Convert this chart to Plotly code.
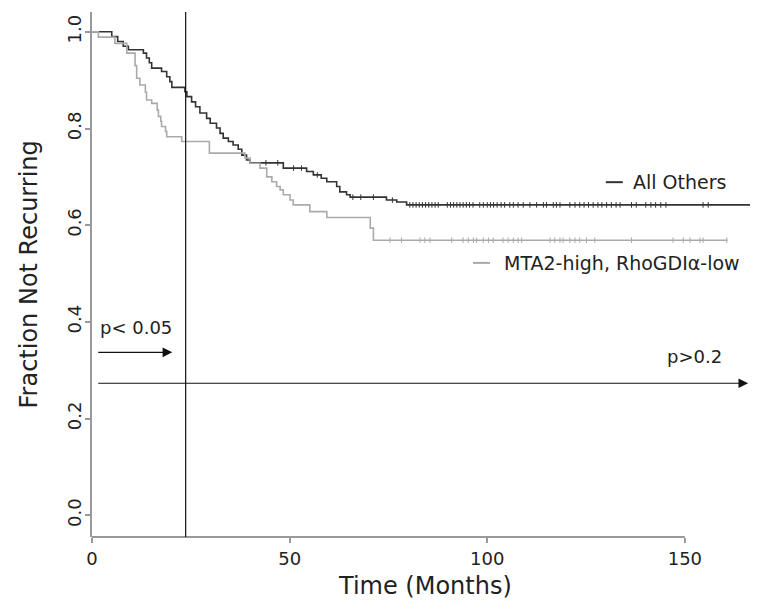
import numpy as np
import plotly.graph_objects as go

# ---------------- data ----------------
others_t = [0, 5.0, 6.5, 7.9, 9.2, 13.0, 13.8, 14.5, 15.1, 17.6, 18.9, 19.7, 20.2,
            23.5, 24.0, 25.2, 26.2, 27.3, 29.0, 29.9, 31.5, 32.4, 33.2, 34.5, 35.7,
            37.0, 37.9, 39.1, 40.0, 48.4, 54.3, 56.0, 58.0, 59.4, 61.9, 62.7, 64.4,
            65.3, 74.5, 77.1, 79.6, 168.0]
others_s = [1.000, 0.990, 0.980, 0.970, 0.963, 0.956, 0.946, 0.936, 0.925, 0.918, 0.907,
            0.897, 0.885, 0.876, 0.866, 0.855, 0.845, 0.832, 0.821, 0.811, 0.801, 0.790,
            0.780, 0.773, 0.766, 0.757, 0.745, 0.735, 0.729, 0.718, 0.711, 0.704, 0.697,
            0.690, 0.680, 0.669, 0.663, 0.658, 0.652, 0.648, 0.642, 0.642]
others_cens = [44.0, 47.0, 51.0, 53.0, 57.0, 66.0, 68.0, 71.2, 76.0,
               80.4, 81.2, 82.0, 82.8, 83.6, 84.4, 85.2, 86.0, 86.8, 87.6,
               89.9, 90.7, 91.5, 92.3, 93.1, 93.9, 94.7, 95.5, 96.4,
               98.1, 99.0, 100.0, 100.8, 101.6, 102.5, 103.5, 104.4,
               105.7, 106.6, 107.8, 109.1, 110.8, 112.5, 114.2, 115.0,
               116.7, 117.5, 118.4, 120.9, 122.2, 123.4, 124.5, 125.6,
               126.8, 128.0, 129.0, 130.2, 131.4, 132.6, 133.6, 136.5,
               137.7, 140.1, 141.4, 142.6, 143.9, 145.2, 154.6, 155.9, 168.0]

mta2_t = [0, 1.6, 5.8, 8.8, 10.9, 11.3, 12.1, 13.5, 13.8, 15.1, 16.5, 16.8, 17.4, 17.6,
          18.6, 18.9, 22.7, 29.7, 38.7, 40.0, 42.5, 44.2, 45.5, 46.7, 47.6, 48.4,
          50.1, 50.9, 55.1, 59.4, 70.4, 71.2, 160.8]
mta2_s = [1.000, 0.989, 0.976, 0.956, 0.930, 0.904, 0.890, 0.875, 0.859, 0.852, 0.838,
          0.825, 0.815, 0.804, 0.794, 0.783, 0.773, 0.749, 0.739, 0.728, 0.718, 0.700,
          0.690, 0.680, 0.673, 0.663, 0.652, 0.642, 0.628, 0.616, 0.594, 0.569, 0.569]
mta2_cens = [75.4, 78.3, 83.0, 84.2, 85.5, 91.0, 93.9, 95.2, 96.5, 97.3, 99.0, 100.3,
             101.5, 104.0, 105.3, 106.6, 107.8, 108.7, 115.9, 117.1, 118.4, 119.2,
             120.9, 122.2, 123.4, 125.1, 127.2, 136.5, 147.0, 149.6, 151.3, 153.8,
             154.6, 160.6]

x_ticks = [0, 50, 100, 150]
x_tick_labels = ["0", "50", "100", "150"]
y_ticks = [0.0, 0.2, 0.4, 0.6, 0.8, 1.0]
y_tick_labels = ["0.0", "0.2", "0.4", "0.6", "0.8", "1.0"]

series_names = ["All Others", "MTA2-high, RhoGDI\u03b1-low"]
cutoff_month = 23.7

DARK = "#333333"
LIGHT = "#aaaaaa"
AXIS = "#999999"
TXT = "#222222"
FONT = "DejaVu Sans"


def step_value(t, times, surv):
    idx = np.searchsorted(np.asarray(times), t, side="right") - 1
    return float(np.asarray(surv)[max(idx, 0)])


fig = go.Figure()
for t, s, c, color in [(others_t, others_s, others_cens, DARK),
                       (mta2_t, mta2_s, mta2_cens, LIGHT)]:
    fig.add_trace(go.Scatter(x=t, y=s, mode="lines", line=dict(color=color, width=1.6, shape="hv"),
                             showlegend=False, hoverinfo="skip"))
    cy = [step_value(ct, t, s) for ct in c]
    fig.add_trace(go.Scatter(x=c, y=cy, mode="markers",
                             marker=dict(symbol="line-ns", size=4, line=dict(color=color, width=1)),
                             showlegend=False, hoverinfo="skip"))

shapes = [
    # bottom axis line only spanning the tick range
    dict(type="line", xref="x", yref="paper", x0=x_ticks[0], x1=x_ticks[-1], y0=0, y1=0,
         line=dict(color=AXIS, width=2)),
    # cutoff vertical line
    dict(type="line", xref="x", yref="paper", x0=cutoff_month, x1=cutoff_month, y0=0, y1=1,
         line=dict(color="#111111", width=1.2)),
    # legend keys
    dict(type="line", xref="x", yref="y", x0=130.0, x1=134.3, y0=0.689, y1=0.689,
         line=dict(color=DARK, width=2)),
    dict(type="line", xref="x", yref="y", x0=96.4, x1=100.7, y0=0.522, y1=0.522,
         line=dict(color=LIGHT, width=2)),
]

annotations = [
    dict(x=136.4, y=0.689, xref="x", yref="y", text=series_names[0], showarrow=False,
         xanchor="left", yanchor="middle", font=dict(family=FONT, size=19, color=TXT)),
    dict(x=103.8, y=0.522, xref="x", yref="y", text=series_names[1], showarrow=False,
         xanchor="left", yanchor="middle", font=dict(family=FONT, size=19, color=TXT)),
    dict(x=1.6, y=0.389, xref="x", yref="y", text="p< 0.05", showarrow=False,
         xanchor="left", yanchor="middle", font=dict(family=FONT, size=18, color=TXT)),
    dict(x=145.0, y=0.329, xref="x", yref="y", text="p>0.2", showarrow=False,
         xanchor="left", yanchor="middle", font=dict(family=FONT, size=18, color=TXT)),
    dict(x=20.3, y=0.337, ax=1.2, ay=0.337, xref="x", yref="y", axref="x", ayref="y",
         text="", showarrow=True, arrowhead=2, arrowsize=1.6, arrowwidth=1.2, arrowcolor="#111111"),
    dict(x=166.0, y=0.273, ax=1.2, ay=0.273, xref="x", yref="y", axref="x", ayref="y",
         text="", showarrow=True, arrowhead=2, arrowsize=1.6, arrowwidth=1.2, arrowcolor="#111111"),
    # axis titles
    dict(x=0.5, y=0, xref="paper", yref="paper", text="Time (Months)", showarrow=False,
         xanchor="center", yanchor="middle", yshift=-49,
         font=dict(family=FONT, size=24, color=TXT)),
    dict(x=0, y=0.5, xref="paper", yref="paper", text="Fraction Not Recurring", showarrow=False,
         xanchor="center", yanchor="middle", xshift=-64, textangle=-90,
         font=dict(family=FONT, size=24, color=TXT)),
]

# the page body adds an 8px offset, so the figure is 8px smaller and margins compensate
fig.update_layout(
    width=750, height=602,
    margin=dict(l=84, r=0, t=4, b=73),
    paper_bgcolor="white", plot_bgcolor="white",
    font=dict(family=FONT, color=TXT),
    shapes=shapes, annotations=annotations,
    xaxis=dict(range=[0, 168.5], showgrid=False, zeroline=False, showline=False,
               ticks="outside", ticklen=5, tickwidth=1.5, tickcolor=AXIS,
               tickvals=x_ticks, ticktext=x_tick_labels,
               tickfont=dict(family=FONT, size=18, color=TXT)),
    yaxis=dict(range=[-0.045, 1.041], showgrid=False, zeroline=False, showline=True,
               linecolor=AXIS, linewidth=2,
               ticks="outside", ticklen=5, tickwidth=1.5, tickcolor=AXIS,
               tickvals=y_ticks, ticktext=y_tick_labels, tickangle=-90,
               ticklabelstandoff=-3,
               tickfont=dict(family=FONT, size=18, color=TXT)),
)

fig.write_html("out.html")
